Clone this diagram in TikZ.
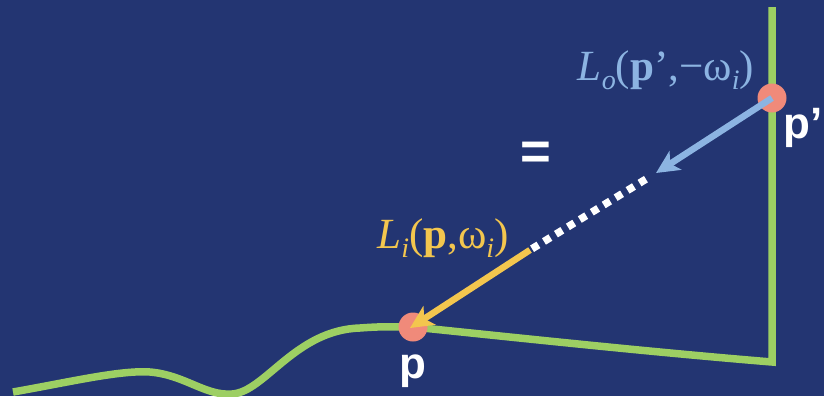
\documentclass[tikz,border=0pt]{standalone}
\usepackage{fontspec}
\setmainfont{Liberation Serif}
\newfontfamily\labelsans{Liberation Sans}
\usetikzlibrary{positioning,arrows.meta,calc}
\definecolor{slide}{HTML}{233572}
\definecolor{surface}{HTML}{9DCF63}
\definecolor{hitpoint}{HTML}{F08A7A}
\definecolor{outgoing}{HTML}{8CB4E2}
\definecolor{incoming}{HTML}{F3C64E}
\newcommand{\lsub}[1]{\raisebox{-0.45ex}{\fontsize{16}{16}\selectfont\textit{#1}}}
\tikzset{
    surfline/.style={draw=surface, line width=0.15cm, line join=miter},
    hit/.style={circle, fill=hitpoint, minimum size=0.58cm, inner sep=0pt},
    ray/.style={line width=0.13cm, -{Stealth[length=0.46cm, width=0.44cm, inset=0.12cm]}},
    gap/.style={draw=white, line width=0.15cm, dash pattern=on 0.15cm off 0.13cm},
    radiance/.style={font=\fontsize{24.5}{28}\selectfont, inner sep=0pt},
    ptlabel/.style={font=\labelsans\bfseries\fontsize{25}{28}\selectfont, text=white, inner sep=0pt}
}

\begin{document}
\begin{tikzpicture}[x=0.02cm, y=-0.02cm]

% ── Background ──
\fill[slide] (0,0) rectangle (824,396);
\useasboundingbox (0,0) rectangle (824,396);

% ── Surface ──
\coordinate (pspot) at (413,327);
\coordinate (corner) at (772,362);
\coordinate (top) at (772,7);
\draw[surfline] (13,392) .. controls (70,382) and (120,370) .. (150,372)
    .. controls (185,375) and (205,396) .. (232,394)
    .. controls (265,392) and (295,330) .. (360,328)
    .. controls (385,326) and (400,327) .. (pspot)
    .. controls (520,338) and (650,352) .. (corner) -- (top);

% ── Points ──
\node[hit] (p) at (pspot) {};
\node[hit] (pprime) at (772,98) {};
\coordinate (bluetip) at (656,173);
\coordinate (dotend) at (530,250);

% ── Rays ──
\draw[ray, outgoing] (pprime.center) -- (bluetip);
\draw[gap] ($(bluetip)!0.08!(dotend)$) -- (dotend);
\draw[ray, incoming] (dotend) -- ($(p.center)+(-3,1)$);

% ── Labels ──
\node[radiance, text=outgoing] (lo) at (666,70) {\textit{L}\lsub{o}(\textbf{p}’,−ω\lsub{i})};
\node[radiance, text=incoming] (li) at (443,238) {\textit{L}\lsub{i}(\textbf{p},ω\lsub{i})};
\node[ptlabel] (pprimelabel) at (803,128) {p’};
\node[ptlabel] (plabel) at (413,371) {p};
\node[ptlabel, font=\labelsans\bfseries\fontsize{30}{30}\selectfont] (equals) at (536,156) {=};

\end{tikzpicture}
\end{document}
